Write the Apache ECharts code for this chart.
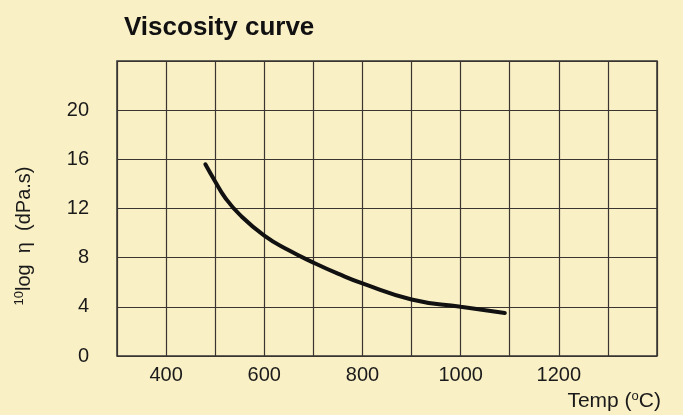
<!DOCTYPE html>
<html><head><meta charset="utf-8">
<script src="https://cdn.jsdelivr.net/npm/echarts@6/dist/echarts.min.js"></script>
<style>html,body{margin:0;padding:0;background:#faf0c6}#c{width:683px;height:415px}</style>
</head><body><div id="c"></div>
<script>
const title = 'Viscosity curve';
const xName = 'Temp';
const yName = 'log  η  (dPa.s)';
const temps = [480, 500, 520, 550, 600, 650, 700, 750, 800, 900, 1000, 1090];
const logEta = [15.6, 14.2, 12.9, 11.5, 9.8, 8.6, 7.6, 6.7, 5.9, 4.6, 4.0, 3.5];
const xMin = 300, xMax = 1400, xStep = 100;
const yMin = 0, yMax = 24, yStep = 4;
const xLabelShown = [400, 600, 800, 1000, 1200];
const yLabelShown = [0, 4, 8, 12, 16, 20];

const chart = echarts.init(document.getElementById('c'));
const font = '"Liberation Sans", Arial, sans-serif';
chart.setOption({
  backgroundColor: '#faf0c6',
  animation: false,
  title: {
    text: title, left: 119, top: 10,
    textStyle: {fontFamily: font, fontWeight: 'bold', fontSize: 26, color: '#111'}
  },
  grid: {left: 117, right: 26, top: 61, bottom: 59, show: true, borderColor: '#333', borderWidth: 1.5},
  xAxis: {
    type: 'value', min: xMin, max: xMax, interval: xStep,
    axisLine: {show: false}, axisTick: {show: false},
    splitLine: {show: true, lineStyle: {color: '#3a3530', width: 1.2}},
    axisLabel: {
      margin: 9, fontFamily: font, fontSize: 20, color: '#1a1a1a',
      formatter: v => xLabelShown.includes(v) ? String(v) : ''
    }
  },
  yAxis: {
    type: 'value', min: yMin, max: yMax, interval: yStep,
    axisLine: {show: false}, axisTick: {show: false},
    splitLine: {show: true, lineStyle: {color: '#3a3530', width: 1.2}},
    axisLabel: {
      margin: 28, fontFamily: font, fontSize: 20, color: '#1a1a1a',
      formatter: v => yLabelShown.includes(v) ? String(v) : ''
    }
  },
  graphic: [
    {
      type: 'text', x: 24, y: 236, rotation: Math.PI / 2,
      style: {
        text: '{sup|10}' + yName, fontFamily: font, fontSize: 20, fill: '#1a1a1a',
        align: 'center', verticalAlign: 'middle',
        rich: {sup: {fontSize: 13, padding: [0, 0, 9, 0], fontFamily: font, fill: '#1a1a1a'}}
      }
    },
    {
      type: 'text', x: 661, y: 401,
      style: {
        text: xName + ' ({sup|o}C)', fontFamily: font, fontSize: 21, fill: '#1a1a1a',
        align: 'right', verticalAlign: 'middle',
        rich: {sup: {fontSize: 13, padding: [0, 0, 9, 0], fontFamily: font, fill: '#1a1a1a'}}
      }
    }
  ],
  series: [{
    type: 'line', smooth: 0.5, symbol: 'none',
    data: temps.map((t, i) => [t, logEta[i]]),
    lineStyle: {color: '#111', width: 4, cap: 'round'}
  }]
});
</script></body></html>
